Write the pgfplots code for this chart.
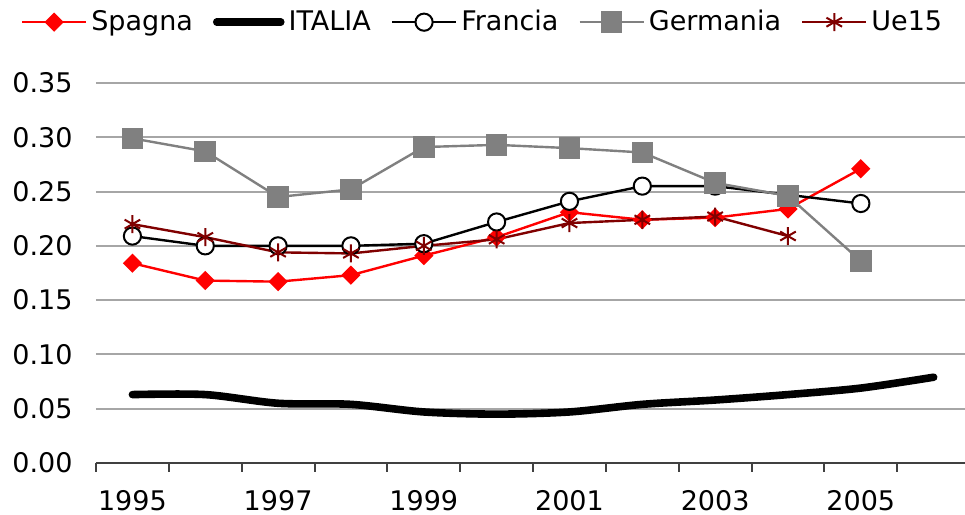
\documentclass[border=0pt]{standalone}
\usepackage{fontspec}
\setmainfont{DejaVu Sans}
\usepackage{pgfplots}
\pgfplotsset{compat=1.18}
\definecolor{ue}{HTML}{800000}
\definecolor{ger}{HTML}{808080}
\definecolor{gridc}{HTML}{A6A6A6}
\definecolor{axc}{HTML}{404040}
\begin{document}
\fontsize{13.5}{16}\selectfont
\begin{tikzpicture}
\begin{axis}[
  scale only axis, width=434.5pt, height=190pt,
  xmin=-0.5, xmax=11.43, ymin=0, ymax=0.35,
  axis x line*=bottom, axis y line*=left,
  y axis line style={draw=none},
  x axis line style={draw=axc, line width=1pt, -},
  ytick={0,0.05,0.10,0.15,0.20,0.25,0.30,0.35},
  ytick style={draw=none},
  ymajorgrids=true,
  grid style={draw=gridc, line width=1pt},
  yticklabel style={/pgf/number format/fixed, /pgf/number format/fixed zerofill, /pgf/number format/precision=2, /pgf/number format/assume math mode=true},
  yticklabel style={xshift=-7pt, font=\fontsize{13.5}{16}\selectfont},
  xtick={0,2,4,6,8,10},
  xticklabels={1995,1997,1999,2001,2003,2005},
  major x tick style={draw=none},
  minor xtick={-0.5,0.5,1.5,2.5,3.5,4.5,5.5,6.5,7.5,8.5,9.5,10.5},
  minor x tick style={draw=axc, line width=1pt},
  minor tick length=4.5pt,
  xtick align=outside,
  xticklabel style={yshift=-5pt, font=\fontsize{13.5}{16}\selectfont},
  legend columns=5,
  legend style={draw=none, fill=none, at={(0.446,1.16)}, anchor=center,
    font=\fontsize{13.5}{16}\selectfont,
    /tikz/every even column/.append style={column sep=8pt}},
  legend image code/.code={\draw[mark repeat=2,mark phase=2,#1] plot coordinates {(0pt,0pt) (16pt,0pt) (32pt,0pt)};},
]
\coordinate (sw) at (rel axis cs:0,0);
\coordinate (ne) at (rel axis cs:1,1);
\addplot[red, line width=1.2pt, mark=square*, mark size=2.8pt, mark options={rotate=45, fill=red, draw=red}]
  coordinates {(0,0.184)(1,0.168)(2,0.167)(3,0.173)(4,0.191)(5,0.208)(6,0.231)(7,0.224)(8,0.226)(9,0.234)(10,0.271)};
\addlegendentry{Spagna}
\addplot[black, line width=3.8pt, smooth, tension=0.5, line cap=round]
  coordinates {(0,0.063)(1,0.063)(2,0.055)(3,0.054)(4,0.047)(5,0.045)(6,0.047)(7,0.054)(8,0.058)(9,0.063)(10,0.069)(11,0.079)};
\addlegendentry{ITALIA}
\addplot[black, line width=1.2pt, mark=*, mark size=4.3pt, mark options={fill=white, draw=black, line width=1pt}]
  coordinates {(0,0.209)(1,0.200)(2,0.200)(3,0.200)(4,0.202)(5,0.222)(6,0.241)(7,0.255)(8,0.255)(9,0.247)(10,0.239)};
\addlegendentry{Francia}
\addplot[ger, line width=1.2pt, mark=square*, mark size=4.8pt, mark options={fill=ger, draw=ger}]
  coordinates {(0,0.299)(1,0.287)(2,0.245)(3,0.252)(4,0.291)(5,0.293)(6,0.290)(7,0.286)(8,0.258)(9,0.246)(10,0.186)};
\addlegendentry{Germania}
\addplot[ue, line width=1.2pt, mark=asterisk, mark size=4.5pt, mark options={line width=1pt}]
  coordinates {(0,0.220)(1,0.208)(2,0.194)(3,0.193)(4,0.200)(5,0.206)(6,0.221)(7,0.224)(8,0.227)(9,0.209)};
\addlegendentry{Ue15}
\end{axis}
\pgfresetboundingbox
\path ([shift={(-48pt,-26pt)}]sw) rectangle ([shift={(0pt,41.5pt)}]ne);
\end{tikzpicture}
\end{document}
